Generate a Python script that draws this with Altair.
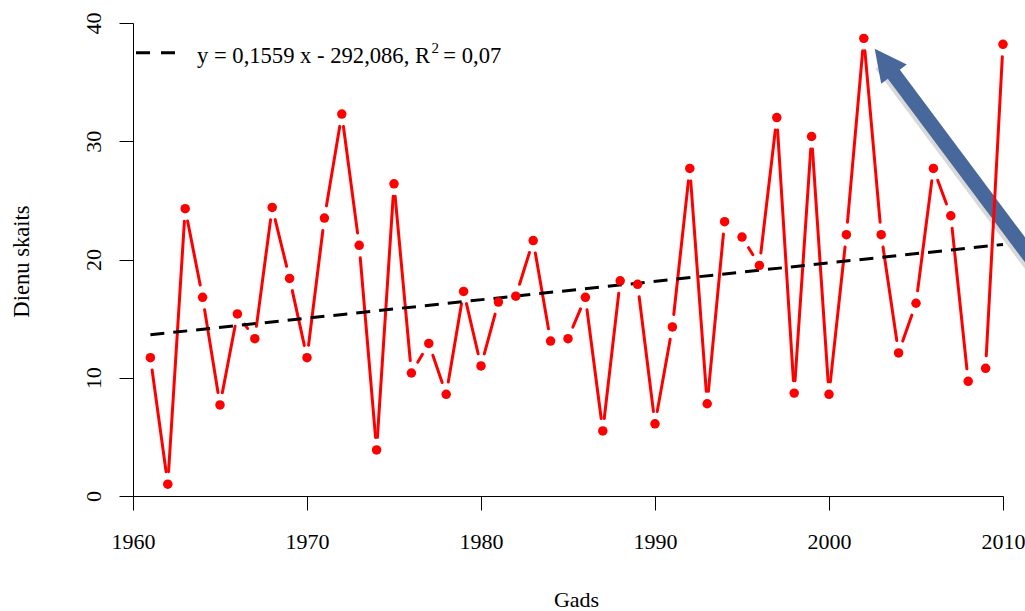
import math
import altair as alt
import pandas as pd

# ---------------- data ----------------
years = list(range(1961, 2011))
days = [11.7, 1.0, 24.3, 16.8, 7.7, 15.4, 13.3, 24.4, 18.4, 11.7,
        23.5, 32.3, 21.2, 3.9, 26.4, 10.4, 12.9, 8.6, 17.3, 11.0,
        16.4, 16.9, 21.6, 13.1, 13.3, 16.8, 5.5, 18.2, 17.9, 6.1,
        14.3, 27.7, 7.8, 23.2, 21.9, 19.5, 32.0, 8.7, 30.4, 8.6,
        22.1, 38.7, 22.1, 12.1, 16.3, 27.7, 23.7, 9.7, 10.8, 38.2]
x_ticks = [1960, 1970, 1980, 1990, 2000, 2010]
y_ticks = [0, 10, 20, 30, 40]
slope, intercept = 0.1559, -292.086
legend_main = "y = 0,1559 x - 292,086, R"
legend_sup = "2"
legend_tail = "= 0,07"
x_title = "Gads"
y_title = "Dienu skaits"

# annotation arrow (data coordinates)
arrow_tip_center = (2003.18, 36.75)
arrow_tail = (2014.02, 15.39)

# ---------------- layout ----------------
W, H = 870, 473
XD, YD = [1960, 2010], [0, 40]
pxx = W / (XD[1] - XD[0])
pxy = H / (YD[1] - YD[0])
GAP = 12.5
FONT = "Liberation Serif"
RED = "#FF0000"
BLUE = "#48679A"

pts = pd.DataFrame({"year": years, "days": days})

# line segments with gaps around the points (R type = "b")
segs = []
for i in range(len(years) - 1):
    x0, y0, x1, y1 = years[i], days[i], years[i + 1], days[i + 1]
    L = math.hypot((x1 - x0) * pxx, (y1 - y0) * pxy)
    if L > 2 * GAP:
        f = GAP / L
        segs.append({"x": x0 + (x1 - x0) * f, "y": y0 + (y1 - y0) * f,
                     "x2": x1 - (x1 - x0) * f, "y2": y1 - (y1 - y0) * f})
segs = pd.DataFrame(segs)

reg = pd.DataFrame({"x": [years[0]], "y": [slope * years[0] + intercept],
                    "x2": [years[-1]], "y2": [slope * years[-1] + intercept]})

xs = alt.Scale(domain=XD, nice=False, zero=False)
ys = alt.Scale(domain=YD, nice=False, zero=False)

xaxis = alt.Axis(values=x_ticks, format="d", title=None, grid=False,
                 tickSize=14, tickColor="black", domainColor="black",
                 labelFont=FONT, labelFontSize=22, labelColor="black",
                 labelBaseline="alphabetic", labelPadding=38,
                 labelFlush=False, labelOverlap=False)
yaxis = alt.Axis(values=y_ticks, format="d", title=None, grid=False,
                 tickSize=14, tickColor="black", domainColor="black",
                 labelFont=FONT, labelFontSize=22, labelColor="black",
                 labelAngle=270, labelAlign="center", labelBaseline="alphabetic",
                 labelPadding=19, labelFlush=False, labelOverlap=False)


def X(f):
    return alt.X(f, type="quantitative", scale=xs, axis=xaxis)


def Y(f):
    return alt.Y(f, type="quantitative", scale=ys, axis=yaxis)


arrow_df = pd.DataFrame({"x": [arrow_tip_center[0]], "y": [arrow_tip_center[1]],
                         "x2": [arrow_tail[0]], "y2": [arrow_tail[1]]})
shadow_df = arrow_df.copy()
shadow_df[["x", "x2"]] -= 2.5 / pxx
shadow_df[["y", "y2"]] -= 2.5 / pxy

shadow = alt.Chart(shadow_df).mark_rule(color="#000000", opacity=0.15, strokeWidth=16).encode(
    x=X("x"), y=Y("y"), x2="x2:Q", y2="y2:Q")
shaft = alt.Chart(arrow_df).mark_rule(color=BLUE, strokeWidth=15).encode(
    x=X("x"), y=Y("y"), x2="x2:Q", y2="y2:Q")
head = alt.Chart(arrow_df).mark_point(
    shape="M0,-1L1,1L-1,1Z", filled=True, color=BLUE, opacity=1,
    size=32 * 32, angle=323, strokeWidth=0).encode(x=X("x"), y=Y("y"))

lines = alt.Chart(segs).mark_rule(color=RED, strokeWidth=3, strokeCap="round").encode(
    x=X("x"), y=Y("y"), x2="x2:Q", y2="y2:Q")

trend = alt.Chart(reg).mark_rule(color="black", strokeWidth=3, strokeDash=[14, 9]).encode(
    x=X("x"), y=Y("y"), x2="x2:Q", y2="y2:Q")

points = alt.Chart(pts).mark_circle(color=RED, size=90, opacity=1).encode(
    x=X("year"), y=Y("days"))

one = pd.DataFrame({"a": [0]})
leg_line = alt.Chart(one).mark_rule(color="black", strokeWidth=3, strokeDash=[14, 11]).encode(
    x=alt.value(3), x2=alt.value(43), y=alt.value(29.7))
leg_t1 = alt.Chart(one).mark_text(font=FONT, fontSize=22.6, align="left",
                                  baseline="alphabetic", color="black").encode(
    x=alt.value(64), y=alt.value(40.3), text=alt.value(legend_main))
leg_t2 = alt.Chart(one).mark_text(font=FONT, fontSize=15, align="left",
                                  baseline="alphabetic", color="black").encode(
    x=alt.value(298.5), y=alt.value(30.3), text=alt.value(legend_sup))
leg_t3 = alt.Chart(one).mark_text(font=FONT, fontSize=22.6, align="left",
                                  baseline="alphabetic", color="black").encode(
    x=alt.value(310.3), y=alt.value(40.3), text=alt.value(legend_tail))

xt = alt.Chart(one).mark_text(font=FONT, fontSize=22, align="center",
                              baseline="alphabetic", color="black").encode(
    x=alt.value(443.5), y=alt.value(583.5), text=alt.value(x_title))
yt = alt.Chart(one).mark_text(font=FONT, fontSize=22.6, align="center",
                              baseline="alphabetic", color="black", angle=270).encode(
    x=alt.value(-104.5), y=alt.value(238.5), text=alt.value(y_title))

chart = alt.layer(shadow, shaft, head, lines, trend, points,
                  leg_line, leg_t1, leg_t2, leg_t3, xt, yt).properties(
    width=W, height=H,
    autosize=alt.AutoSizeParams(type="none"),
    padding={"left": 133, "top": 23, "right": 22, "bottom": 115},
    background="white",
).configure_view(stroke=None)

chart.save("out.html", embed_options={"renderer": "svg", "actions": False})
